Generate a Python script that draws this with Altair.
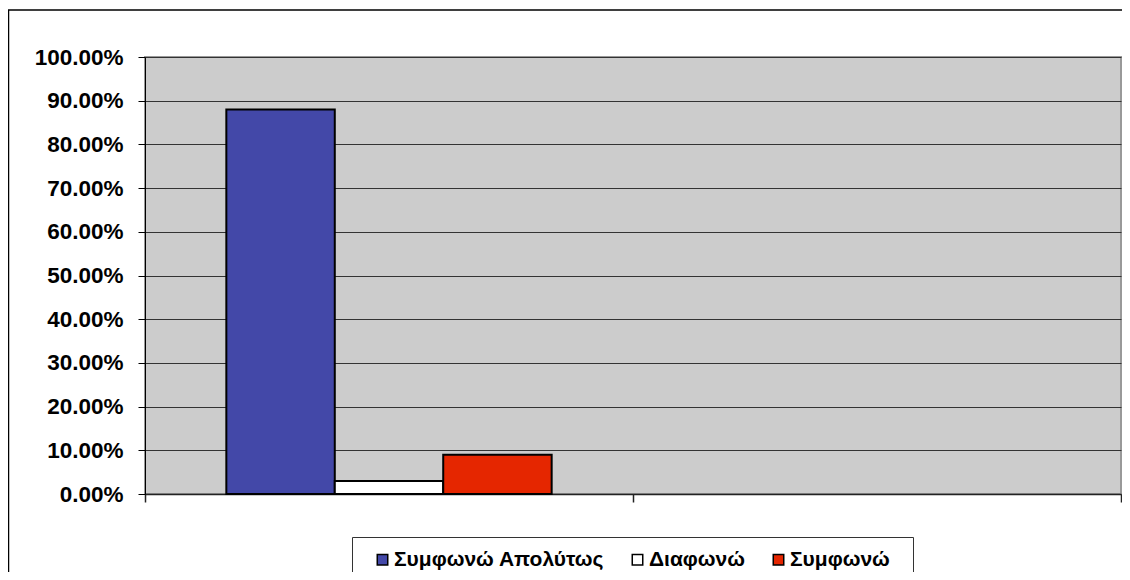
import altair as alt
import pandas as pd

groups = ["1", "2"]
series = ["Συμφωνώ Απολύτως", "Διαφωνώ", "Συμφωνώ"]
values = [0.88, 0.03, 0.09]
colors = ["#4348A8", "#FFFFFF", "#E52600"]
y_ticks = [0.0, 0.1, 0.2, 0.3, 0.4, 0.5, 0.6, 0.7, 0.8, 0.9, 1.0]

df = pd.DataFrame({"group": [groups[0]] * len(series), "series": series, "value": values})

FONT = "Liberation Sans"

bars = alt.Chart(df).mark_bar(stroke="black", strokeWidth=2).encode(
    x=alt.X(
        "group:N",
        scale=alt.Scale(domain=groups, paddingInner=0, paddingOuter=0),
        axis=alt.Axis(labels=False, title=None, tickBand="extent", ticks=True, tickSize=8,
                      tickColor="#222222", tickWidth=1.5, domainColor="#222222", domainWidth=1.5, grid=False),
    ),
    xOffset=alt.XOffset("series:N", scale=alt.Scale(domain=series, paddingInner=0, paddingOuter=0.75)),
    y=alt.Y(
        "value:Q",
        scale=alt.Scale(domain=[0, 1]),
        axis=alt.Axis(values=y_ticks, format=".2%", title=None, labelFont=FONT, labelFontSize=22.5,
                      labelFontWeight="bold", labelColor="black", tickSize=7, tickColor="black",
                      labelPadding=15, domainColor="black", gridColor="#333333", gridWidth=1),
    ),
    color=alt.Color(
        "series:N",
        scale=alt.Scale(domain=series, range=colors),
        legend=alt.Legend(orient="none", legendX=227, legendY=492, direction="horizontal", title=None,
                          symbolType="square", symbolSize=110, symbolStrokeColor="black",
                          symbolStrokeWidth=1.5, symbolOpacity=1, labelFont=FONT, labelFontSize=21,
                          labelFontWeight="bold", labelColor="black", labelLimit=400, labelOffset=1,
                          columnPadding=22, padding=0),
    ),
)

frame = alt.Chart(alt.Data(values=[{}])).mark_rect(fillOpacity=0, stroke="black", strokeWidth=1.5).encode(
    x=alt.value(-136.5), x2=alt.value(1100), y=alt.value(-47), y2=alt.value(700)
)
legend_box = alt.Chart(alt.Data(values=[{}])).mark_rect(fillOpacity=0, stroke="#333333", strokeWidth=1).encode(
    x=alt.value(207.5), x2=alt.value(768.5), y=alt.value(480.5), y2=alt.value(700)
)

chart = alt.layer(frame, legend_box, bars).properties(
    width=976, height=437,
    autosize=alt.AutoSizeParams(type="none"),
    padding={"left": 137, "top": 49, "right": 1, "bottom": 78},
    background="white",
).configure_view(fill="#CCCCCC", stroke="#999999", strokeWidth=2)

chart.save("out.html", embed_options={"renderer": "svg", "actions": False})
